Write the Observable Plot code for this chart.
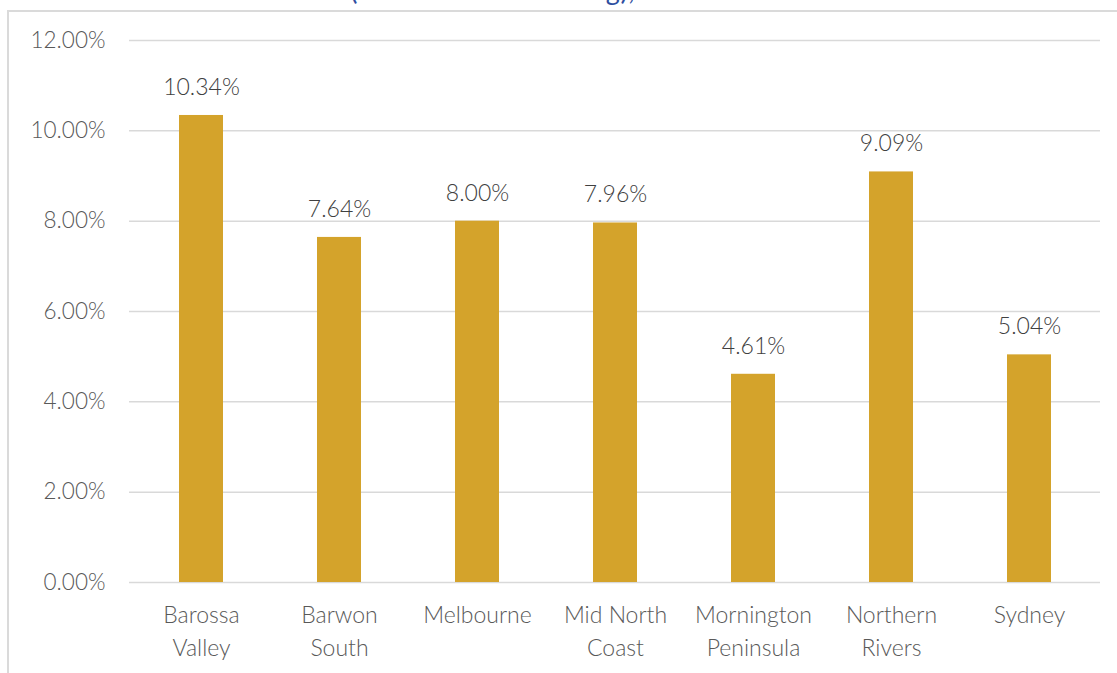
<!DOCTYPE html>
<html>
<head>
<meta charset="utf-8">
<script src="https://cdn.jsdelivr.net/npm/d3@7"></script>
<script src="https://cdn.jsdelivr.net/npm/@observablehq/plot@0.6"></script>
<style>
  html, body { margin: 0; padding: 0; background: #fff; overflow: hidden; }
  #wrap { position: relative; width: 1117px; height: 673px; font-family: Lato, "Noto Sans", sans-serif; }
  #title { position: absolute; left: 128px; top: -27px; font-size: 27px; letter-spacing: 0.6px; color: #2F4FA0; white-space: nowrap; }
  #frame { position: absolute; left: 7px; top: 10px; width: 1112px; height: 670px; border-left: 2px solid #dadada; border-top: 2px solid #dadada; box-sizing: border-box; }
  #chart { position: absolute; left: 0; top: 0; }
</style>
</head>
<body>
<div id="wrap">
  <div id="title">Increase of Hosts (Hosts with 2+ Listing), as a share of Total Hosts</div>
  <div id="frame"></div>
  <div id="chart"></div>
</div>
<script>
const categories = ["Barossa Valley", "Barwon South", "Melbourne", "Mid North Coast", "Mornington Peninsula", "Northern Rivers", "Sydney"];
const categoryLabels = ["Barossa\nValley", "Barwon\nSouth", "Melbourne", "Mid North\nCoast", "Mornington\nPeninsula", "Northern\nRivers", "Sydney"];
const values = [0.1034, 0.0764, 0.0800, 0.0796, 0.0461, 0.0909, 0.0504];
const yTicks = [0, 0.02, 0.04, 0.06, 0.08, 0.10, 0.12];

const data = categories.map((c, i) => ({category: c, value: values[i]}));
const labelOf = new Map(categories.map((c, i) => [c, categoryLabels[i]]));
const fmt = d3.format(".2%");

const chart = Plot.plot({
  width: 1117,
  height: 673,
  marginLeft: 129,
  marginRight: 17,
  marginTop: 40,
  marginBottom: 91,
  style: {fontFamily: "Lato, 'Noto Sans', sans-serif", fontWeight: 300, background: "transparent", color: "#595959"},
  x: {domain: categories, paddingInner: 0.683, paddingOuter: 0.3415, label: null},
  y: {domain: [0, 0.12], label: null},
  marks: [
    Plot.ruleY(yTicks, {stroke: "#d9d9d9", strokeWidth: 1.5}),
    Plot.barY(data, {x: "category", y: "value", fill: "#D4A32B"}),
    Plot.text(data, {x: "category", y: "value", text: d => fmt(d.value), dy: -28, fontSize: 23, fill: "#404040"}),
    Plot.axisY({ticks: yTicks, tickFormat: fmt, tickSize: 0, tickPadding: 24, fontSize: 22.5, fill: "#595959", label: null}),
    Plot.axisX({tickSize: 0, tickPadding: 17, tickFormat: d => labelOf.get(d), fontSize: 23, lineHeight: 1.43, fill: "#595959", label: null, lineAnchor: "top"})
  ]
});
document.getElementById("chart").appendChild(chart);
</script>
</body>
</html>
